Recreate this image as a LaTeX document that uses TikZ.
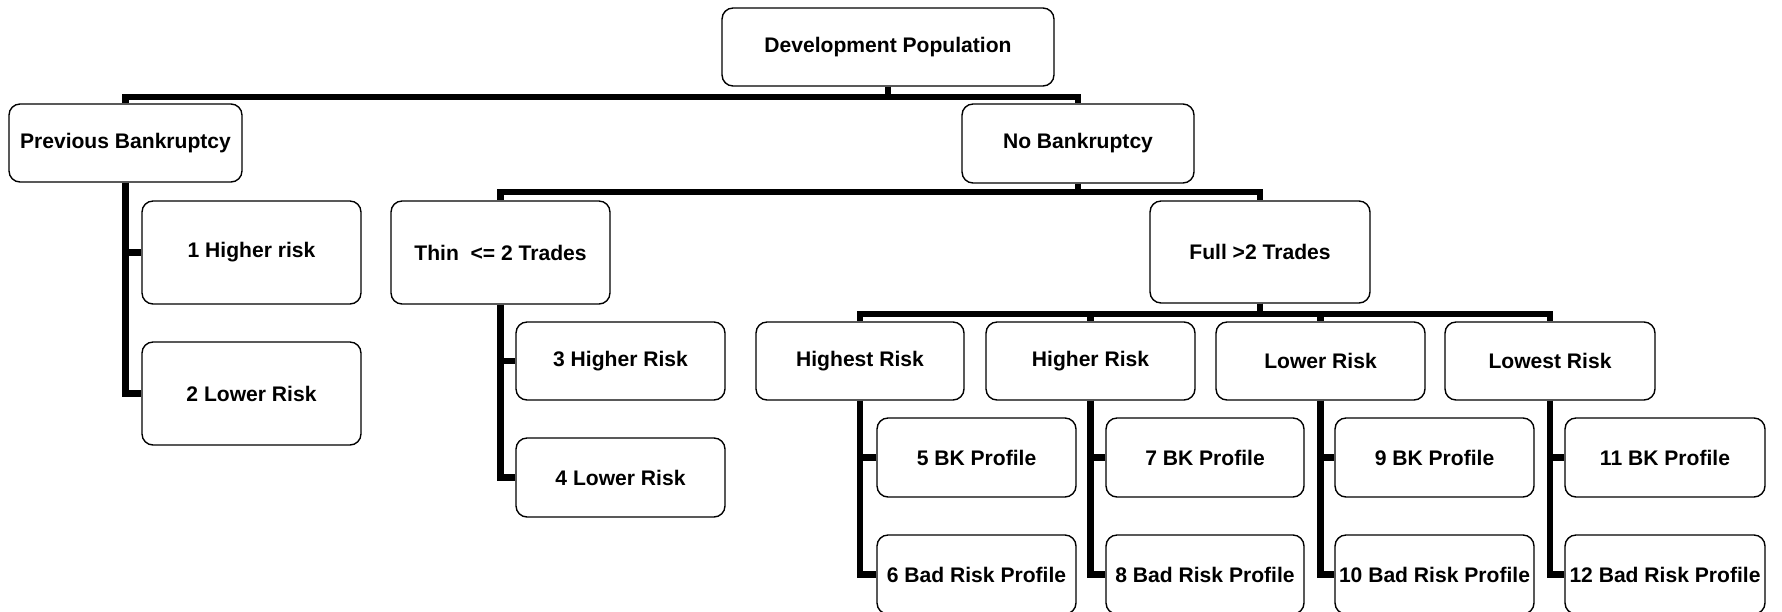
\documentclass[tikz,border=0pt]{standalone}
\usepackage{fontspec}
\setmainfont{Liberation Sans}
\usepackage{tikz}

\begin{document}
\begin{tikzpicture}[x=0.02cm, y=-0.02cm,
    box/.style={draw, rectangle, rounded corners=0.22cm, line width=0.8pt, fill=white, inner sep=0pt,
        font=\bfseries\fontsize{12}{14}\selectfont},
    link/.style={line width=3.5pt}]
    \useasboundingbox (0,0) rectangle (1782,612);

    % Root
    \node[box, minimum width=6.64cm, minimum height=1.56cm] (dev) at (888,47) {Development Population};

    % Bankruptcy split
    \node[box, minimum width=4.66cm, minimum height=1.56cm] (prevbk) at (125.5,143) {Previous Bankruptcy};
    \node[box, minimum width=4.64cm, minimum height=1.58cm] (nobk) at (1078,143.5) {No Bankruptcy};

    % Previous bankruptcy segments
    \node[box, minimum width=4.38cm, minimum height=2.06cm] (hr1) at (251.5,252.5) {1 Higher risk};
    \node[box, minimum width=4.38cm, minimum height=2.06cm] (lr2) at (251.5,393.5) {2 Lower Risk};

    % Trade split
    \node[box, minimum width=4.38cm, minimum height=2.06cm] (thin) at (500.5,252.5) {Thin~~<= 2 Trades};
    \node[box, minimum width=4.40cm, minimum height=2.04cm] (full) at (1260,252) {Full >2 Trades};

    % Thin file segments
    \node[box, minimum width=4.18cm, minimum height=1.56cm] (hr3) at (620.5,361) {3 Higher Risk};
    \node[box, minimum width=4.18cm, minimum height=1.58cm] (lr4) at (620.5,477.5) {4 Lower Risk};

    % Full file risk groups
    \node[box, minimum width=4.16cm, minimum height=1.56cm] (highest) at (860,361) {Highest Risk};
    \node[box, minimum width=4.18cm, minimum height=1.56cm] (higher) at (1090.5,361) {Higher Risk};
    \node[box, minimum width=4.18cm, minimum height=1.56cm] (lower) at (1320.5,361) {Lower Risk};
    \node[box, minimum width=4.20cm, minimum height=1.56cm] (lowest) at (1550,361) {Lowest Risk};

    % Profiles
    \node[box, minimum width=3.98cm, minimum height=1.58cm] (bk5) at (976.5,457.5) {5 BK Profile};
    \node[box, minimum width=3.98cm, minimum height=1.58cm] (bad6) at (976.5,574.5) {6 Bad Risk Profile};
    \node[box, minimum width=3.96cm, minimum height=1.58cm] (bk7) at (1205,457.5) {7 BK Profile};
    \node[box, minimum width=3.96cm, minimum height=1.58cm] (bad8) at (1205,574.5) {8 Bad Risk Profile};
    \node[box, minimum width=3.98cm, minimum height=1.58cm] (bk9) at (1434.5,457.5) {9 BK Profile};
    \node[box, minimum width=3.98cm, minimum height=1.58cm] (bad10) at (1434.5,574.5) {10 Bad Risk Profile};
    \node[box, minimum width=4.00cm, minimum height=1.58cm] (bk11) at (1665,457.5) {11 BK Profile};
    \node[box, minimum width=4.00cm, minimum height=1.58cm] (bad12) at (1665,574.5) {12 Bad Risk Profile};

    % Links
    \draw[link] (dev.south) -- ++(0,10) -| (prevbk.north);
    \draw[link] (dev.south) -- ++(0,10) -| (nobk.north);
    \draw[link] (prevbk.south) |- (hr1.west);
    \draw[link] (prevbk.south) |- (lr2.west);
    \draw[link] (nobk.south) -- ++(0,8) -| (thin.north);
    \draw[link] (nobk.south) -- ++(0,8) -| (full.north);
    \draw[link] (thin.south) |- (hr3.west);
    \draw[link] (thin.south) |- (lr4.west);
    \draw[link] (full.south) -- ++(0,10) -| (highest.north);
    \draw[link] (full.south) -- ++(0,10) -| (higher.north);
    \draw[link] (full.south) -- ++(0,10) -| (lower.north);
    \draw[link] (full.south) -- ++(0,10) -| (lowest.north);
    \draw[link] (highest.south) |- (bk5.west);
    \draw[link] (highest.south) |- (bad6.west);
    \draw[link] (higher.south) |- (bk7.west);
    \draw[link] (higher.south) |- (bad8.west);
    \draw[link] (lower.south) |- (bk9.west);
    \draw[link] (lower.south) |- (bad10.west);
    \draw[link] (lowest.south) |- (bk11.west);
    \draw[link] (lowest.south) |- (bad12.west);

\end{tikzpicture}
\end{document}
